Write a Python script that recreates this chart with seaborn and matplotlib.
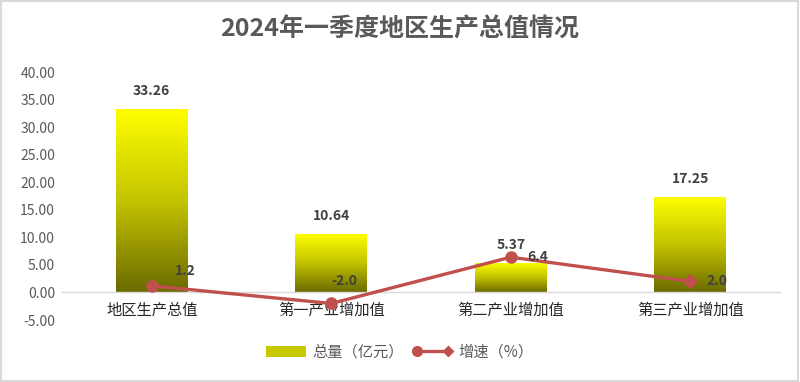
import numpy as np
import pandas as pd
import matplotlib
matplotlib.use('Agg')
import matplotlib.pyplot as plt
import seaborn as sns
from matplotlib.colors import LinearSegmentedColormap
from matplotlib.patches import Patch
from matplotlib.lines import Line2D
from matplotlib.legend_handler import HandlerLine2D

# 数据
categories = ['地区生产总值', '第一产业增加值', '第二产业增加值', '第三产业增加值']
total_values = [33.26, 10.64, 5.37, 17.25]      # 总量（亿元）
growth_rates = [1.2, -2.0, 6.4, 2.0]            # 增速（%）
y_ticks = [-5, 0, 5, 10, 15, 20, 25, 30, 35, 40]

TEXT_GRAY = '#595959'
LABEL_DARK = '#404040'
LINE_RED = '#C0504D'
AXIS_GRAY = '#D9D9D9'


class CircleDiamondHandler(HandlerLine2D):
    """图例：左端圆点，右端菱形"""
    def create_artists(self, legend, orig_handle, xdescent, ydescent,
                       width, height, fontsize, trans):
        line = super().create_artists(legend, orig_handle, xdescent, ydescent,
                                      width, height, fontsize, trans)[0]
        line.set_marker('None')
        xd, yd = line.get_xdata(), line.get_ydata()
        m1 = Line2D([xd[0]], [yd[0]], marker='o', markersize=7, color=LINE_RED,
                    linestyle='None', transform=trans)
        m2 = Line2D([xd[-1]], [yd[-1]], marker='D', markersize=5.5, color=LINE_RED,
                    linestyle='None', transform=trans)
        return [line, m1, m2]


sns.set_theme(style='white')
plt.rcParams['font.family'] = ['Noto Sans CJK SC', 'DejaVu Sans']
plt.rcParams['axes.unicode_minus'] = False

fig = plt.figure(figsize=(8, 3.82), dpi=100)
ax = fig.add_axes([0.0775, 0.1623, 0.8975, 0.6492])

df = pd.DataFrame({'cat': categories, 'total': total_values, 'rate': growth_rates})

# 柱状图（渐变填充）
sns.barplot(data=df, x='cat', y='total', width=0.4, color='yellow', ax=ax, zorder=2)
cmap = LinearSegmentedColormap.from_list(
    'yel', [(0, '#6B6B00'), (0.5, '#C4C400'), (1, '#FFFF00')])
grad = np.linspace(0, 1, 256).reshape(-1, 1)
for bar in list(ax.patches):
    x0, y0 = bar.get_x(), bar.get_y()
    w, h = bar.get_width(), bar.get_height()
    bar.set_facecolor('none')
    bar.set_edgecolor('none')
    im = ax.imshow(grad, extent=[x0, x0 + w, y0, y0 + h], origin='lower',
                   aspect='auto', cmap=cmap, zorder=2)
    im.set_clip_path(bar)

ax.bar_label(ax.containers[0], labels=[f'{v:.2f}' for v in total_values],
             padding=8, fontsize=10, fontweight='bold', color=LABEL_DARK)

# 折线（增速）
x_pos = np.arange(len(categories))
sns.lineplot(x=x_pos, y=growth_rates, color=LINE_RED, linewidth=2.4, ax=ax, zorder=4)
ax.plot(x_pos[:-1], growth_rates[:-1], 'o', color=LINE_RED, markersize=8, zorder=5)
ax.plot(x_pos[-1:], growth_rates[-1:], 'D', color=LINE_RED, markersize=7, zorder=5)

offsets = [(34, 15), (13, 22), (27, 0), (27, 0)]
for xi, r, off in zip(x_pos, growth_rates, offsets):
    ax.annotate(f'{r:.1f}', xy=(xi, r), xytext=off, textcoords='offset pixels',
                ha='center', va='center', fontsize=10, fontweight='bold',
                color=LABEL_DARK, zorder=6)

# 坐标轴
ax.set_xlim(-0.5, 3.5)
ax.set_ylim(-5, 40)
ax.set_yticks(y_ticks)
ax.set_yticklabels([f'{t:.2f}' for t in y_ticks], fontsize=10, color=TEXT_GRAY)
ax.set_xticks(x_pos)
ax.set_xticklabels(categories, fontsize=11, color=TEXT_GRAY)
ax.set_xlabel('')
ax.set_ylabel('')
ax.tick_params(axis='y', length=0, pad=5)
ax.tick_params(axis='x', length=0, pad=7)
for s in ['top', 'right', 'left']:
    ax.spines[s].set_visible(False)
ax.spines['bottom'].set_position(('data', 0))
ax.spines['bottom'].set_color(AXIS_GRAY)
ax.spines['bottom'].set_linewidth(1)
ax.grid(False)

fig.suptitle('2024年一季度地区生产总值情况', x=0.5, y=0.955, fontsize=18,
             fontweight='bold', color=TEXT_GRAY)

bar_handle = Patch(facecolor='#C8C800', edgecolor='none')
line_handle = Line2D([], [], color=LINE_RED, linewidth=2.4)
fig.legend([bar_handle, line_handle], ['总量（亿元）', '增速（%）'], loc='center',
           bbox_to_anchor=(0.5, 1 - 352 / 382), ncol=2, frameon=False,
           fontsize=11, labelcolor=TEXT_GRAY, handlelength=2.6, numpoints=2,
           columnspacing=0.6, handletextpad=0.4,
           handler_map={line_handle: CircleDiamondHandler()})

# 外框
fig.patches.append(plt.Rectangle((0.001, 0.002), 0.997, 0.995, transform=fig.transFigure,
                                 fill=False, edgecolor=AXIS_GRAY, linewidth=1.5))

fig.savefig('out.png', dpi=100)
